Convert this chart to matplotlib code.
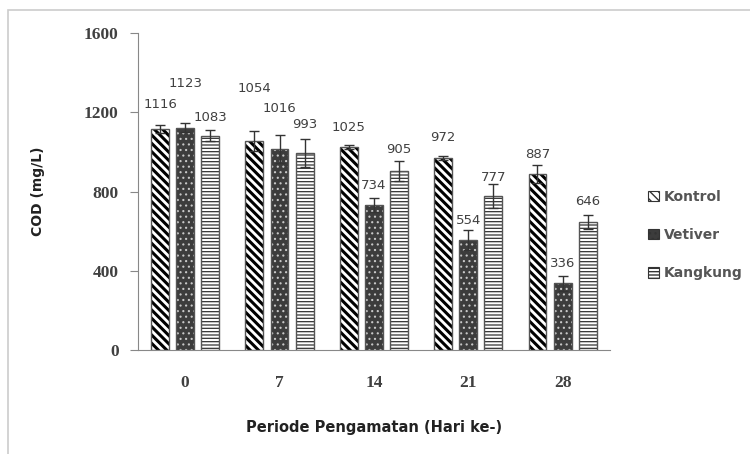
import matplotlib.pyplot as plt
import matplotlib.patches as mpatches
from matplotlib.font_manager import FontProperties
import numpy as np

days = ['0', '7', '14', '21', '28']
series = ['Kontrol', 'Vetiver', 'Kangkung']
kontrol = [1116, 1054, 1025, 972, 887]
vetiver = [1123, 1016, 734, 554, 336]
kangkung = [1083, 993, 905, 777, 646]
kontrol_err = [22, 50, 10, 10, 45]
vetiver_err = [24, 70, 35, 50, 40]
kangkung_err = [28, 70, 50, 60, 35]

# how far each value label sits above its bar (moved by hand in the original)
label_raise = [[126, 264, 101, 103, 102],
               [225, 206, 99, 102, 103],
               [93, 148, 105, 96, 106]]

# fill style per series: face, hatch colour, hatch, hatch line width
styles = [('white', 'black', '\\\\\\\\', 2.2),
          ('#3c3c3c', '#c8c8c8', '...', 0.8),
          ('white', '#333333', '-----', 0.9)]

fig = plt.figure(figsize=(7.5, 4.54), dpi=100)
ax = fig.add_axes([0.184, 0.229, 0.629, 0.698])

x = np.arange(len(days))
step = 0.266
width = 0.19
values = [kontrol, vetiver, kangkung]
errs = [kontrol_err, vetiver_err, kangkung_err]


def hatched(draw, lw):
    with plt.rc_context({'hatch.linewidth': lw}):
        arts = draw()
    for a in arts:
        if hasattr(a, 'set_hatch_linewidth'):
            a.set_hatch_linewidth(lw)
    return arts


for i, (vals, err) in enumerate(zip(values, errs)):
    pos = x + (i - 1) * step
    face, hcol, hatch, hlw = styles[i]
    hatched(lambda: ax.bar(pos, vals, width, color=face, edgecolor=hcol, hatch=hatch, lw=0), hlw)
    ax.bar(pos, vals, width, fill=False, edgecolor='#555555', lw=1.0)
    ax.errorbar(pos, vals, yerr=err, fmt='none', ecolor='#333333', elinewidth=1.0,
                capsize=3.5, capthick=1.0)
    for j in range(len(days)):
        ax.text(pos[j], vals[j] + label_raise[i][j], str(vals[j]), ha='center', va='center',
                fontsize=9.5, color='#404040')

ax.set_xlim(-0.5, 4.5)
ax.set_ylim(0, 1600)
ax.set_yticks([0, 400, 800, 1200, 1600])
ax.set_xticks(x)
ax.set_xticklabels(days)
tick_font = FontProperties(family='Liberation Serif', weight='bold', size=12.5)
for lab in ax.get_xticklabels() + ax.get_yticklabels():
    lab.set_fontproperties(tick_font)
    lab.set_color('#404040')
ax.tick_params(axis='x', length=0, pad=18)
ax.tick_params(axis='y', length=6, direction='out', color='#888888', pad=8)
for s in ['top', 'right']:
    ax.spines[s].set_visible(False)
ax.spines['left'].set_color('#888888')
ax.spines['bottom'].set_color('#888888')

ax.set_ylabel('COD (mg/L)', fontsize=10, fontweight='bold', color='#222222', labelpad=28)
ax.set_xlabel('Periode Pengamatan (Hari ke-)', fontsize=10.5, fontweight='bold',
              color='#222222', labelpad=21)

handles = []
for face, hcol, hatch, hlw in styles:
    p = mpatches.Patch(facecolor=face, edgecolor='#333333', hatch=hatch, lw=0.8)
    if hasattr(p, 'set_hatch_linewidth'):
        p.set_hatch_linewidth(min(hlw, 1.5))
    handles.append(p)
leg = ax.legend(handles, series, loc='center left', bbox_to_anchor=(1.055, 0.363),
                frameon=False, labelspacing=1.75, handlelength=0.75,
                handleheight=0.75, handletextpad=0.35, prop={'weight': 'bold', 'size': 10})
for t in leg.get_texts():
    t.set_color('#555555')

fig.patches.append(mpatches.Rectangle((8 / 750, -0.05), 1.1, 1 - 10 / 454 + 0.05,
                                      transform=fig.transFigure, fill=False,
                                      edgecolor='#cccccc', lw=1.2))

fig.savefig('out.png', dpi=100)
